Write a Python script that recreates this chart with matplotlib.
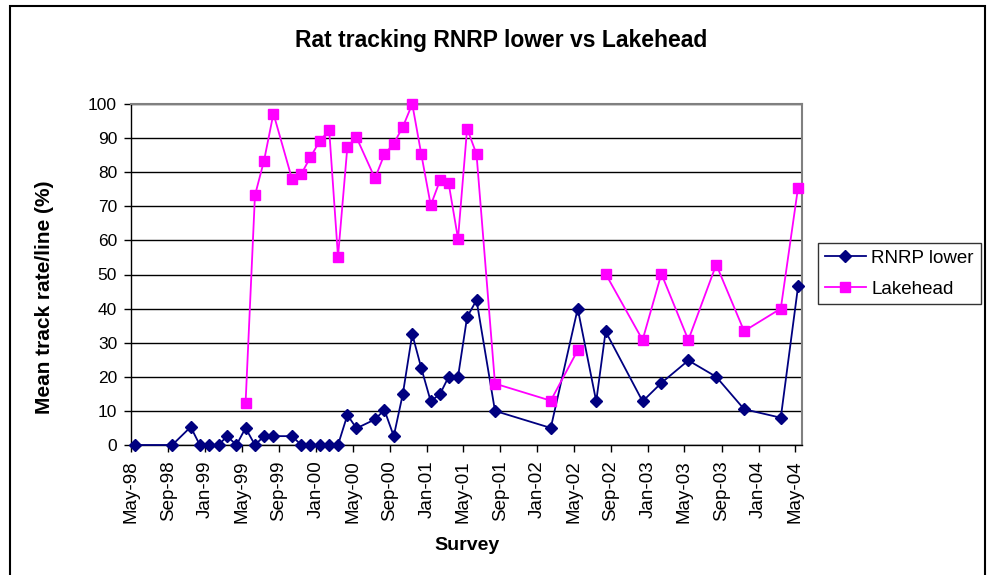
import numpy as np
import pandas as pd
import matplotlib
matplotlib.use("Agg")
import matplotlib.pyplot as plt
import matplotlib.dates as mdates
from matplotlib.patches import Rectangle

plt.rcParams['font.family'] = ['Liberation Sans', 'DejaVu Sans']

# survey dates (mid-month)
surveys = ['1998-05-14', '1998-09-14', '1998-11-14', '1998-12-14', '1999-01-14',
           '1999-02-14', '1999-03-14', '1999-04-14', '1999-05-14', '1999-06-14',
           '1999-07-14', '1999-08-14', '1999-10-14', '1999-11-14', '1999-12-14',
           '2000-01-14', '2000-02-14', '2000-03-14', '2000-04-14', '2000-05-14',
           '2000-07-14', '2000-08-14', '2000-09-14', '2000-10-14', '2000-11-14',
           '2000-12-14', '2001-01-14', '2001-02-14', '2001-03-14', '2001-04-14',
           '2001-05-14', '2001-06-14', '2001-08-14', '2002-02-14', '2002-05-14',
           '2002-07-14', '2002-08-14', '2002-12-14', '2003-02-14', '2003-05-14',
           '2003-08-14', '2003-11-14', '2004-03-14', '2004-05-10']

rnrp_lower = [0, 0, 5.3, 0, 0,
              0, 2.6, 0, 5.0, 0,
              2.6, 2.6, 2.6, 0, 0,
              0, 0, 0, 8.8, 4.9,
              7.5, 10.3, 2.6, 15.0, 32.5,
              22.5, 12.8, 15.0, 20.0, 20.0,
              37.5, 42.5, 10.0, 5.0, 40.0,
              12.8, 33.3, 12.8, 18.2, 24.8,
              20.0, 10.5, 8.0, 46.5]

lakehead = [np.nan, np.nan, np.nan, np.nan, np.nan,
            np.nan, np.nan, np.nan, 12.2, 73.2,
            83.4, 97.2, 78.1, 79.5, 84.4,
            89.2, 92.3, 55.2, 87.5, 90.2,
            78.2, 85.2, 88.4, 93.3, 100.0,
            85.2, 70.3, 77.7, 76.8, 60.5,
            92.8, 85.3, 18.0, 13.0, 27.8,
            np.nan, 50.2, 30.8, 50.2, 30.8,
            52.9, 33.4, 40.0, 75.5]

dates = pd.to_datetime(surveys)

fig = plt.figure(figsize=(9.88, 5.75), dpi=100)
ax = fig.add_axes([131/988, 130/575, 671/988, 341/575])

ax.plot(dates, rnrp_lower, color='#000080', marker='D', markersize=6.5,
        linewidth=1.3, label='RNRP lower', clip_on=False, zorder=3)
ax.plot(dates, lakehead, color='#FF00FF', marker='s', markersize=6.5,
        linewidth=1.3, label='Lakehead', clip_on=False, zorder=3)

ax.set_ylim(0, 100)
ax.set_yticks(np.arange(0, 101, 10))
ax.set_xlim(pd.Timestamp('1998-05-01'), pd.Timestamp('2004-05-23'))
ax.xaxis.set_major_locator(mdates.MonthLocator(bymonth=[1, 5, 9]))
ax.xaxis.set_major_formatter(mdates.DateFormatter('%b-%y'))
ax.tick_params(axis='x', rotation=90, labelsize=13.5, length=5, width=1, pad=6)
ax.tick_params(axis='y', labelsize=12.5, length=5, width=1, pad=5)

ax.grid(axis='y', color='black', linewidth=1)
ax.set_axisbelow(True)
ax.spines['top'].set_color('#808080')
ax.spines['right'].set_color('#808080')
ax.spines['top'].set_linewidth(1.5)
ax.spines['right'].set_linewidth(1.5)
ax.spines['left'].set_linewidth(1)
ax.spines['bottom'].set_linewidth(1)

fig.text(501/988, 1 - 41/575, 'Rat tracking RNRP lower vs Lakehead',
         ha='center', va='center', fontsize=16.5, fontweight='bold')
fig.text(45/988, 1 - 297/575, 'Mean track rate/line (%)', rotation=90,
         ha='center', va='center', fontsize=15, fontweight='bold')
fig.text(467/988, 1 - 545/575, 'Survey', ha='center', va='center',
         fontsize=14, fontweight='bold')

leg = fig.legend(loc='upper left', bbox_to_anchor=(818/988, 1 - 243/575),
                 fontsize=13.5, frameon=True, fancybox=False, borderaxespad=0,
                 handlelength=2.2, handletextpad=0.3, borderpad=0.35,
                 labelspacing=0.75)
leg.get_frame().set_edgecolor('black')
leg.get_frame().set_linewidth(1)

fig.patches.append(Rectangle((10/988, -0.05), 975/988, 1.05 - 6/575,
                             transform=fig.transFigure, fill=False,
                             edgecolor='black', linewidth=1.5))

fig.savefig('out.png', dpi=100)
